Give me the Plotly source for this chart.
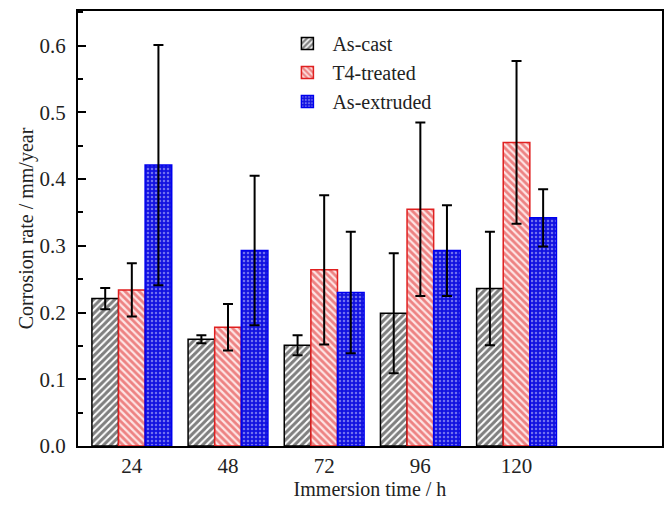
import plotly.graph_objects as go

times = [24, 48, 72, 96, 120]
tick_labels = ["24", "48", "72", "96", "120"]

as_cast = [0.221, 0.160, 0.151, 0.199, 0.236]
as_cast_err = [0.016, 0.006, 0.015, 0.090, 0.085]

t4_treated = [0.234, 0.178, 0.264, 0.355, 0.455]
t4_treated_err = [0.040, 0.035, 0.112, 0.130, 0.122]

as_extruded = [0.421, 0.293, 0.230, 0.293, 0.342]
as_extruded_err = [0.180, 0.112, 0.091, 0.068, 0.043]

font_family = "Liberation Serif, Times New Roman, serif"

def err(vals):
    return dict(type="data", array=vals, visible=True, color="black",
                thickness=2, width=5)

fig = go.Figure()
fig.add_trace(go.Bar(
    x=times, y=as_cast, name="As-cast", error_y=err(as_cast_err),
    marker=dict(color="white", line=dict(color="black", width=1.5),
                pattern=dict(shape="/", fgcolor="#000000", bgcolor="white",
                             size=5, solidity=0.6, fillmode="overlay")),
))
fig.add_trace(go.Bar(
    x=times, y=t4_treated, name="T4-treated", error_y=err(t4_treated_err),
    marker=dict(color="#fbe3e3", line=dict(color="#e02020", width=1.5),
                pattern=dict(shape="\\", fgcolor="#dd2020", bgcolor="#fde4e4",
                             size=5, solidity=0.55, fillmode="overlay")),
))
fig.add_trace(go.Bar(
    x=times, y=as_extruded, name="As-extruded", error_y=err(as_extruded_err),
    marker=dict(color="#1010dd", line=dict(color="#0000ee", width=1.5),
                pattern=dict(shape=".", fgcolor="#d0d0ff", bgcolor="#1212e0",
                             size=4, solidity=0.3, fillmode="overlay")),
))

fig.update_layout(
    width=669, height=505,
    margin=dict(l=78, r=5, t=11, b=59),
    paper_bgcolor="white", plot_bgcolor="white",
    barmode="group", bargap=0.17, bargroupgap=0,
    font=dict(family=font_family, size=20, color="#222"),
    showlegend=True,
    legend=dict(x=0.35, y=0.97, xanchor="left", yanchor="top",
                font=dict(size=20, color="#222"), bgcolor="rgba(0,0,0,0)",
                tracegroupgap=0, itemwidth=40),
    xaxis=dict(
        range=[10.57, 156.3], tickvals=times, ticktext=tick_labels,
        showline=True, linecolor="black", linewidth=2, mirror=True,
        ticks="", showgrid=False, zeroline=False,
        title=dict(text="Immersion time / h", standoff=4, font=dict(size=20, color="#222")),
        tickfont=dict(size=21),
    ),
    yaxis=dict(
        range=[0, 0.652], tickvals=[0, 0.1, 0.2, 0.3, 0.4, 0.5, 0.6],
        ticktext=["0.0", "0.1", "0.2", "0.3", "0.4", "0.5", "0.6"],
        showline=True, linecolor="black", linewidth=2, mirror=True,
        ticks="inside", ticklen=8, tickwidth=2, tickcolor="black",
        ticklabelstandoff=6,
        minor=dict(dtick=0.05, tick0=0, ticks="inside", ticklen=5, tickwidth=2, tickcolor="black"),
        showgrid=False, zeroline=False,
        title=dict(text="Corrosion rate / mm/year", standoff=1, font=dict(size=20, color="#222")),
        tickfont=dict(size=21),
    ),
)

fig.write_html("out.html")
